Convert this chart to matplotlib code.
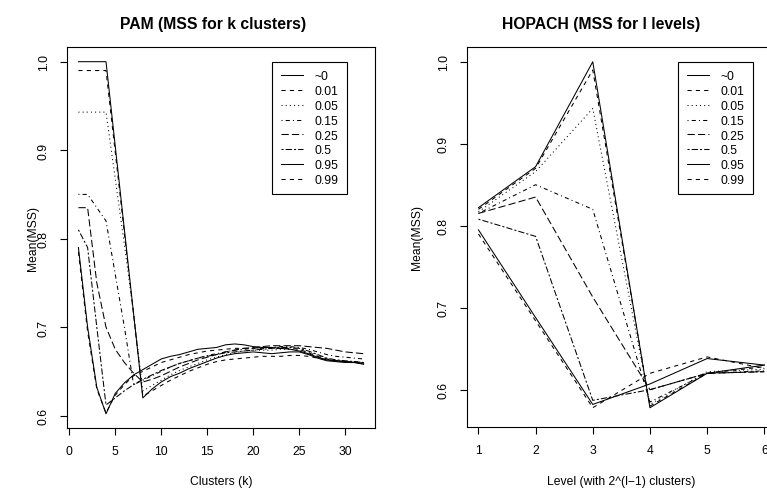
import matplotlib
matplotlib.use("Agg")
import matplotlib.pyplot as plt

plt.rcParams['font.family'] = ['Liberation Sans', 'DejaVu Sans']

# legend labels and R-style line types (lty 1..6, recycled)
labels = ['~0', '0.01', '0.05', '0.15', '0.25', '0.5', '0.95', '0.99']
styles = ['-', (0, (4, 4)), (0, (1, 3)), (0, (1, 3, 4, 3)), (0, (7, 3)),
          (0, (2, 2, 6, 2)), '-', (0, (4, 4))]

# PAM: mean MSS for k = 1..32 clusters
clusters = list(range(1, 33))
pam_00 = [1.0, 1.0, 1.0, 1.0, 0.905, 0.81, 0.715, 0.620, 0.630, 0.638, 0.644, 0.648,
          0.653, 0.657, 0.661, 0.665, 0.668, 0.670, 0.671, 0.672, 0.671, 0.670, 0.671, 0.672,
          0.672, 0.669, 0.665, 0.662, 0.661, 0.660, 0.660, 0.659]
pam_01 = [0.99, 0.99, 0.99, 0.99, 0.898, 0.806, 0.714, 0.622, 0.628, 0.634, 0.640, 0.645,
          0.650, 0.654, 0.658, 0.661, 0.663, 0.664, 0.665, 0.666, 0.667, 0.667, 0.667, 0.668,
          0.668, 0.667, 0.665, 0.663, 0.662, 0.661, 0.661, 0.660]
pam_05 = [0.943, 0.943, 0.943, 0.943, 0.868, 0.793, 0.715, 0.628, 0.634, 0.640, 0.646, 0.651,
          0.655, 0.659, 0.663, 0.666, 0.669, 0.671, 0.673, 0.674, 0.674, 0.674, 0.675, 0.675,
          0.674, 0.672, 0.668, 0.664, 0.662, 0.661, 0.660, 0.660]
pam_15 = [0.85, 0.85, 0.835, 0.82, 0.76, 0.70, 0.635, 0.640, 0.645, 0.650, 0.655, 0.659,
          0.662, 0.665, 0.668, 0.670, 0.672, 0.674, 0.675, 0.676, 0.677, 0.677, 0.678, 0.678,
          0.677, 0.675, 0.672, 0.669, 0.667, 0.666, 0.665, 0.664]
pam_25 = [0.835, 0.835, 0.75, 0.70, 0.675, 0.66, 0.648, 0.638, 0.641, 0.645, 0.650, 0.655,
          0.659, 0.663, 0.666, 0.669, 0.672, 0.674, 0.676, 0.677, 0.678, 0.679, 0.679, 0.679,
          0.679, 0.678, 0.677, 0.676, 0.674, 0.672, 0.671, 0.670]
pam_50 = [0.81, 0.79, 0.70, 0.612, 0.62, 0.628, 0.635, 0.641, 0.646, 0.651, 0.655, 0.659,
          0.662, 0.665, 0.667, 0.669, 0.671, 0.672, 0.673, 0.674, 0.675, 0.676, 0.677, 0.677,
          0.676, 0.673, 0.669, 0.665, 0.663, 0.662, 0.661, 0.660]
pam_95 = [0.79, 0.70, 0.632, 0.602, 0.625, 0.637, 0.646, 0.652, 0.658, 0.664, 0.667, 0.669,
          0.672, 0.675, 0.676, 0.677, 0.680, 0.681, 0.680, 0.678, 0.677, 0.677, 0.676, 0.675,
          0.673, 0.670, 0.666, 0.663, 0.662, 0.661, 0.660, 0.658]
pam_99 = [0.785, 0.695, 0.630, 0.603, 0.623, 0.635, 0.645, 0.650, 0.655, 0.660, 0.663, 0.666,
          0.669, 0.671, 0.673, 0.674, 0.675, 0.676, 0.676, 0.676, 0.676, 0.676, 0.676, 0.676,
          0.675, 0.671, 0.667, 0.664, 0.662, 0.661, 0.660, 0.659]

# HOPACH: mean MSS for levels 1..6
levels = [1, 2, 3, 4, 5, 6]
hop_00 = [0.822, 0.872, 1.000, 0.578, 0.620, 0.630]
hop_01 = [0.820, 0.870, 0.990, 0.580, 0.620, 0.628]
hop_05 = [0.817, 0.866, 0.943, 0.582, 0.622, 0.625]
hop_15 = [0.815, 0.850, 0.820, 0.585, 0.620, 0.623]
hop_25 = [0.815, 0.835, 0.713, 0.600, 0.620, 0.622]
hop_50 = [0.808, 0.787, 0.587, 0.600, 0.620, 0.622]
hop_95 = [0.795, 0.688, 0.582, 0.607, 0.638, 0.630]
hop_99 = [0.790, 0.684, 0.578, 0.620, 0.640, 0.626]

pam = [pam_00, pam_01, pam_05, pam_15, pam_25, pam_50, pam_95, pam_99]
hop = [hop_00, hop_01, hop_05, hop_15, hop_25, hop_50, hop_95, hop_99]

W, H = 767, 489
fig = plt.figure(figsize=(W / 100, H / 100), dpi=100)


def px_axes(x0, y0, x1, y1):
    # box given in image pixels (top-left origin)
    return fig.add_axes([x0 / W, (H - y1) / H, (x1 - x0) / W, (y1 - y0) / H])


def style_axes(ax, xticks, xlim, ylim):
    ax.set_xlim(*xlim)
    ax.set_ylim(*ylim)
    ax.set_xticks(xticks)
    ax.set_yticks([0.6, 0.7, 0.8, 0.9, 1.0])
    ax.set_yticklabels(['0.6', '0.7', '0.8', '0.9', '1.0'])
    for s in ax.spines.values():
        s.set_linewidth(0.8)
        s.set_color('black')
    ax.tick_params(direction='out', length=5, width=0.8, labelsize=8.7, pad=7.5)
    for lab in ax.get_yticklabels():
        lab.set_rotation(90)
        lab.set_va('center')


def add_legend(ax, handles, x, y):
    leg = ax.legend(handles, labels, loc='upper right', bbox_to_anchor=(x, y),
                    borderaxespad=0, fancybox=False, framealpha=1, edgecolor='black',
                    fontsize=8.7, handlelength=1.85, handletextpad=0.95,
                    labelspacing=0.23, borderpad=0.7)
    leg.get_frame().set_linewidth(0.8)


# left panel: PAM
ax1 = px_axes(67, 48, 375, 429)
h1 = []
for vals, ls in zip(pam, styles):
    line, = ax1.plot(clusters, vals, color='black', lw=0.75, linestyle=ls)
    h1.append(line)
style_axes(ax1, [0, 5, 10, 15, 20, 25, 30], (1 - 1.24, 32 + 1.24), (0.586, 1.0166))
add_legend(ax1, h1, 0.909, 0.9606)
ax1.text(0.475, 1.062, 'PAM (MSS for k clusters)', transform=ax1.transAxes,
         ha='center', va='center', fontsize=11.3, fontweight='bold')
ax1.text(0.5, -0.139, 'Clusters (k)', transform=ax1.transAxes,
         ha='center', va='center', fontsize=8.7)
ax1.text(-0.112, 0.5, 'Mean(MSS)', transform=ax1.transAxes, rotation=90,
         ha='center', va='center', fontsize=8.7)

# right panel: HOPACH (plot box runs past the right edge of the image)
ax2 = px_axes(467, 48, 775.7, 428)
h2 = []
for vals, ls in zip(hop, styles):
    line, = ax2.plot(levels, vals, color='black', lw=0.75, linestyle=ls)
    h2.append(line)
style_axes(ax2, [1, 2, 3, 4, 5, 6], (0.8, 6.2), (0.5545, 1.018))
add_legend(ax2, h2, 0.9265, 0.9605)
ax2.text(0.435, 1.062, 'HOPACH (MSS for l levels)', transform=ax2.transAxes,
         ha='center', va='center', fontsize=11.3, fontweight='bold')
ax2.text(0.5, -0.142, 'Level (with 2^(l\u22121) clusters)', transform=ax2.transAxes,
         ha='center', va='center', fontsize=8.7)
ax2.text(-0.162, 0.5, 'Mean(MSS)', transform=ax2.transAxes, rotation=90,
         ha='center', va='center', fontsize=8.7)

fig.savefig('out.png', dpi=100)
